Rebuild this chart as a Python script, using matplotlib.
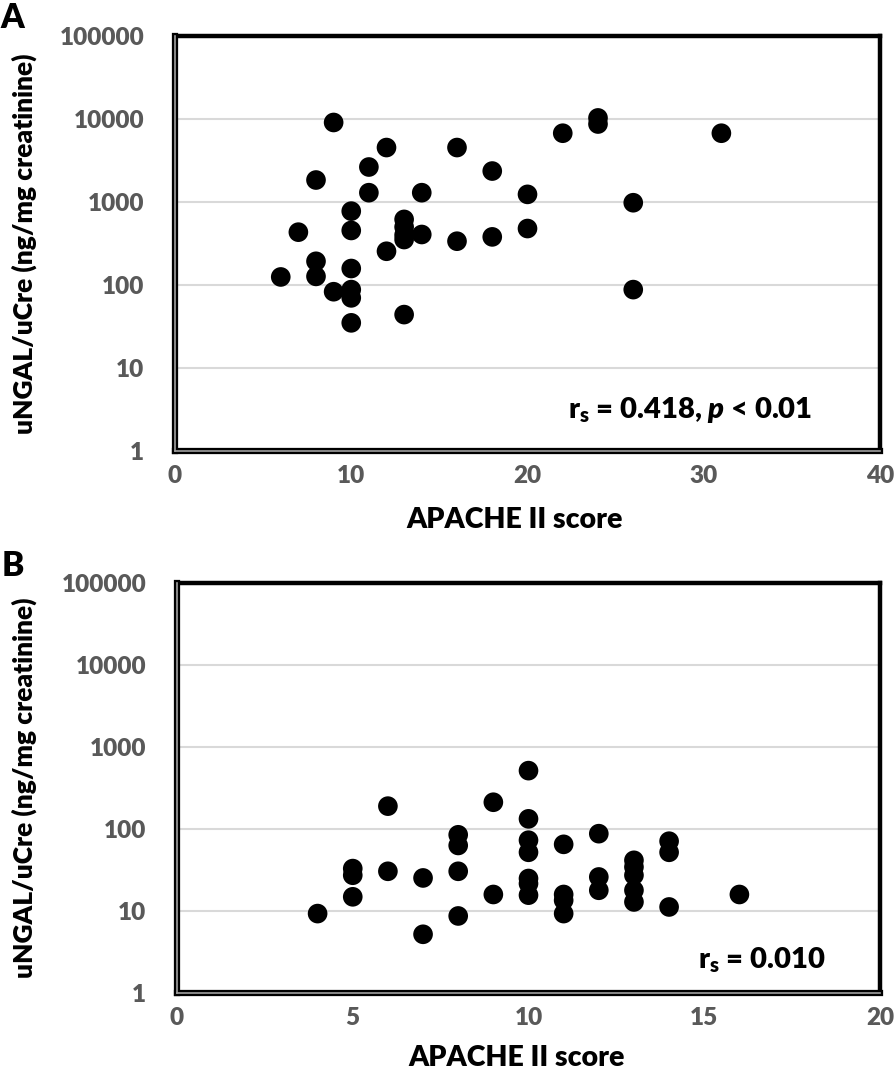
import matplotlib
matplotlib.use("Agg")
import matplotlib.pyplot as plt
from matplotlib.ticker import FixedLocator, FixedFormatter, NullLocator

plt.rcParams['font.family'] = ['Lato', 'DejaVu Sans']
plt.rcParams['font.weight'] = 'heavy'
plt.rcParams['axes.labelweight'] = 'heavy'
plt.rcParams['mathtext.fontset'] = 'custom'
plt.rcParams['mathtext.rm'] = 'Lato:heavy'
plt.rcParams['mathtext.bf'] = 'Lato:heavy'
plt.rcParams['mathtext.it'] = 'Lato:heavy:italic'

# Panel A data
a_x = [6, 7, 8, 8, 8, 9, 9, 10, 10, 10, 10, 10, 10, 11, 11, 12, 12,
       13, 13, 13, 13, 13, 14, 14, 16, 16, 18, 18, 20, 20, 22, 24, 24,
       26, 26, 31]
a_y = [125, 433, 1840, 193, 127, 9080, 83, 776, 454, 158, 88, 70, 35, 2640, 1295, 4530, 255,
       617, 500, 400, 353, 44, 1295, 406, 4530, 337, 2360, 380, 1236, 479, 6740, 10300, 8700,
       980, 88, 6740]

# Panel B data
b_x = [4, 5, 5, 5, 6, 6, 7, 7, 8, 8, 8, 8, 9, 9,
       10, 10, 10, 10, 10, 10, 10, 11, 11, 11, 11,
       12, 12, 12, 13, 13, 13, 13, 13, 14, 14, 14, 16]
b_y = [9.3, 32.9, 27.3, 14.9, 190, 30.5, 25.3, 5.2, 85, 63, 30.5, 8.7, 212, 15.9,
       515, 133, 73, 52, 24.9, 21.6, 15.6, 65, 15.9, 13.5, 9.3,
       87.7, 26, 17.9, 41.5, 34.4, 27.3, 17.9, 12.9, 71, 52, 11.2, 15.9]

y_ticks = [1, 10, 100, 1000, 10000, 100000]
y_labels = ['1', '10', '100', '1000', '10000', '100000']
a_xticks = [0, 10, 20, 30, 40]
b_xticks = [0, 5, 10, 15, 20]

W, H = 894, 1075
fig = plt.figure(figsize=(W / 100, H / 100), dpi=100)

def make_axes(rect, xs, ys, xticks, note, note_xy, letter, letter_xy, xlab_xy):
    l, t, r, b = rect
    ax = fig.add_axes([l / W, 1 - b / H, (r - l) / W, (b - t) / H])
    ax.set_yscale('log')
    ax.set_ylim(1, 100000)
    ax.set_xlim(xticks[0], xticks[-1])
    ax.yaxis.set_major_locator(FixedLocator(y_ticks))
    ax.yaxis.set_major_formatter(FixedFormatter(y_labels))
    ax.yaxis.set_minor_locator(NullLocator())
    ax.set_xticks(xticks)
    ax.set_xticklabels([str(v) for v in xticks])
    ax.grid(axis='y', color='#d9d9d9', lw=1.5)
    ax.set_axisbelow(True)
    ax.tick_params(length=0, labelsize=17.5, labelcolor='#595959')
    ax.tick_params(axis='y', pad=22)
    ax.tick_params(axis='x', pad=10)
    for s in ['top', 'right']:
        ax.spines[s].set_linewidth(3.2)
        ax.spines[s].set_color('black')
    for s in ['left', 'bottom']:
        ax.spines[s].set_linewidth(4.5)
        ax.spines[s].set_color('black')
    ax.plot([0, 0], [0, 1], transform=ax.transAxes, color='#a0a0a0', lw=1.2,
            clip_on=False, zorder=5)
    ax.plot([0, 1], [0, 0], transform=ax.transAxes, color='#a0a0a0', lw=1.2,
            clip_on=False, zorder=5)
    ax.scatter(xs, ys, s=200, color='black', edgecolors='none', zorder=3)
    ax.set_xlabel('APACHE II score', fontsize=20.5)
    ax.xaxis.set_label_coords((xlab_xy[0] - l) / (r - l), -(xlab_xy[1] - b) / (b - t))
    ax.xaxis.label.set_va('center')
    ax.set_ylabel('uNGAL/uCre (ng/mg creatinine)', fontsize=19)
    ax.yaxis.set_label_coords(-(l - 37) / (r - l), 0.5)
    ax.text((note_xy[0] - l) / (r - l), (b - note_xy[1]) / (b - t), note,
            transform=ax.transAxes, ha='right', va='center', fontsize=21)
    fig.text(letter_xy[0] / W, 1 - letter_xy[1] / H, letter, fontsize=24,
             ha='left', va='center')
    return ax

make_axes((175, 36, 880, 451), a_x, a_y, a_xticks,
          r'r$_\mathregular{s}$ = 0.418, $\mathit{p}$ < 0.01', (812, 410), 'A', (0, 18),
          (515, 520))
make_axes((177, 583, 880, 993), b_x, b_y, b_xticks,
          r'r$_\mathregular{s}$ = 0.010', (826, 960), 'B', (2, 566),
          (517, 1058))

fig.savefig('out.png', dpi=100)
